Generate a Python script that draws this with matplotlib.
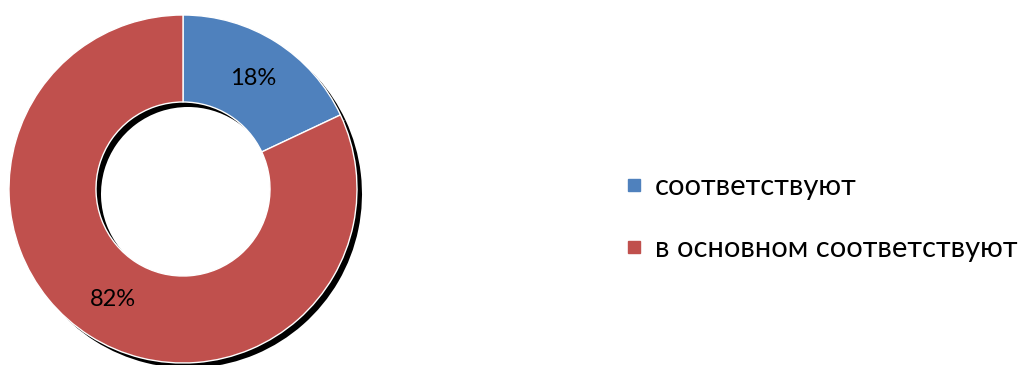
import matplotlib.pyplot as plt
import matplotlib.patches as mpatches
import matplotlib.transforms as mtransforms
from matplotlib.lines import Line2D

labels = ['соответствуют', 'в основном соответствуют']
shares = [18, 82]
colors = ['#4F81BD', '#C0504D']

plt.rcParams['font.family'] = ['Lato', 'DejaVu Sans']

W, H = 1019, 365
fig = plt.figure(figsize=(W / 100, H / 100), dpi=100)

# ring: centre (183, 189) px, outer radius 174 px
cx, cy, r = 183, 189, 174
ax = fig.add_axes([(cx - r) / W, (H - cy - r) / H, 2 * r / W, 2 * r / H])
ax.set_aspect('equal')
ax.axis('off')

ring = 0.5
wedges, texts, autotexts = ax.pie(
    shares, colors=colors, startangle=90, counterclock=False,
    radius=1, autopct='%d%%', pctdistance=0.75,
    wedgeprops=dict(width=ring, edgecolor='white', linewidth=1),
    textprops=dict(fontsize=17, color='black'))
ax.set_xlim(-1, 1)
ax.set_ylim(-1, 1)

# hard black drop shadow under each segment
shift = mtransforms.ScaledTranslation(5 / 100, -5 / 100, fig.dpi_scale_trans)
for w in wedges:
    sh = mpatches.Wedge(w.center, w.r, w.theta1, w.theta2, width=ring,
                        facecolor='black', edgecolor='none',
                        transform=ax.transData + shift, clip_on=False, zorder=0)
    ax.add_patch(sh)
for w in wedges:
    w.set_zorder(1)
for t in autotexts:
    t.set_zorder(2)

handles = [Line2D([], [], marker='s', linestyle='none', markersize=9,
                  markerfacecolor=c, markeredgecolor=c) for c in colors]
fig.legend(handles, labels, loc='center left',
           bbox_to_anchor=(625 / W, 1 - 218 / H), frameon=False,
           borderaxespad=0, borderpad=0,
           fontsize=21, handlelength=0.6, handletextpad=0.43,
           labelspacing=1.22)

fig.savefig('out.png', dpi=100)
